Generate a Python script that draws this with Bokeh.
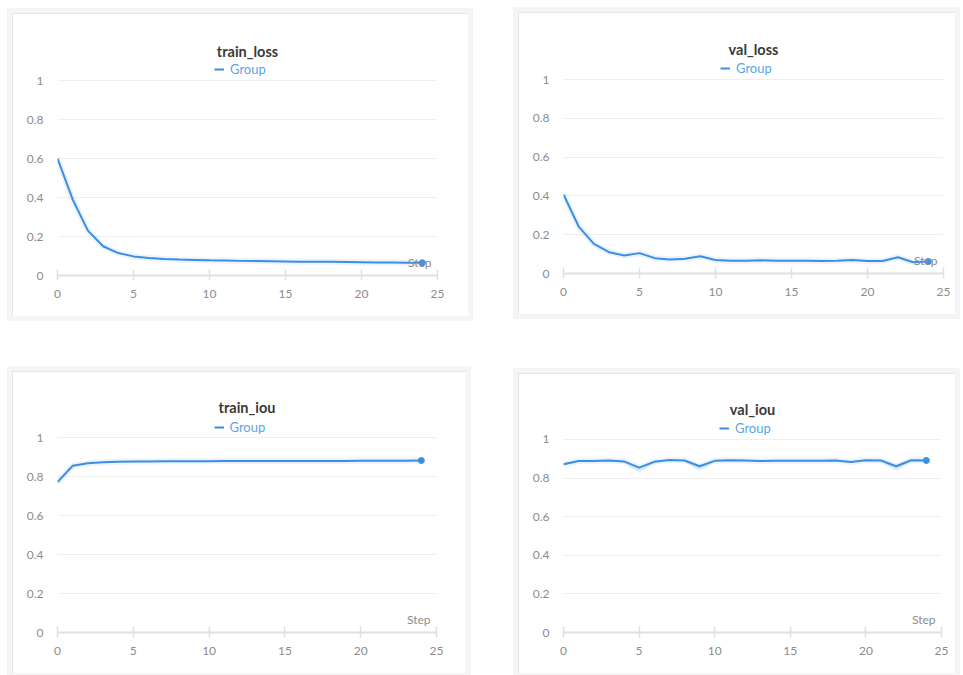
from bokeh.plotting import figure
from bokeh.layouts import column, row
from bokeh.models import (Legend, LegendItem, Title, Label, FixedTicker, Range1d,
                          NumeralTickFormatter)
from bokeh.embed import file_html
from bokeh.resources import INLINE

# ---------------- data ----------------
steps = list(range(25))
train_loss = [0.600, 0.390, 0.230, 0.150, 0.115, 0.098, 0.090, 0.085, 0.082, 0.080,
              0.078, 0.077, 0.075, 0.074, 0.073, 0.072, 0.071, 0.070, 0.070, 0.069,
              0.068, 0.067, 0.067, 0.066, 0.065]
val_loss = [0.407, 0.242, 0.153, 0.110, 0.093, 0.105, 0.079, 0.072, 0.076, 0.089,
            0.070, 0.066, 0.066, 0.068, 0.066, 0.066, 0.066, 0.065, 0.066, 0.070,
            0.064, 0.064, 0.084, 0.058, 0.062]
train_iou = [0.771, 0.855, 0.868, 0.873, 0.876, 0.877, 0.877, 0.878, 0.878, 0.878,
             0.878, 0.879, 0.879, 0.879, 0.880, 0.880, 0.880, 0.880, 0.880, 0.880,
             0.881, 0.881, 0.881, 0.881, 0.882]
val_iou = [0.871, 0.888, 0.888, 0.891, 0.886, 0.854, 0.884, 0.893, 0.891, 0.861,
           0.889, 0.892, 0.891, 0.888, 0.890, 0.889, 0.890, 0.890, 0.891, 0.883,
           0.892, 0.891, 0.861, 0.892, 0.891]
val_iou_low = [0.866, 0.884, 0.884, 0.887, 0.880, 0.828, 0.878, 0.889, 0.886, 0.835,
               0.885, 0.888, 0.887, 0.884, 0.886, 0.885, 0.886, 0.886, 0.887, 0.878,
               0.888, 0.887, 0.835, 0.888, 0.887]
val_iou_high = [0.875, 0.892, 0.892, 0.895, 0.890, 0.860, 0.889, 0.897, 0.895, 0.866,
                0.893, 0.896, 0.895, 0.892, 0.894, 0.893, 0.894, 0.894, 0.895, 0.887,
                0.896, 0.895, 0.866, 0.896, 0.895]

x_ticks = [0, 5, 10, 15, 20, 25]
y_ticks = [0, 0.2, 0.4, 0.6, 0.8, 1]
series_label = "Group"
x_label = "Step"

BLUE = "#3d8ee0"
LEG_TXT = "#5ba3ea"
FONT = "Lato"
LEGEND_H = 16


def make_panel(name, y, w, h, borders, margin, px_per_unit, title_standoff,
               band=None):
    bl, br, bt, bb = borders
    frame_w = w - bl - br
    frame_h = h - bt - bb
    y_top = frame_h / px_per_unit  # extra room above 1 for the legend
    p = figure(width=w, height=h, x_range=Range1d(0, 25), y_range=Range1d(0, y_top),
               output_backend="svg", toolbar_location=None,
               min_border_left=bl, min_border_right=br,
               min_border_top=bt, min_border_bottom=bb,
               margin=margin)
    p.background_fill_color = "white"
    p.border_fill_color = "white"
    p.outline_line_color = None
    p.styles = {"outline": "1px solid #dcdcdc", "outline-offset": "-1px",
                "box-shadow": "0 0 0 5px #f5f5f5"}

    # grid
    p.xgrid.grid_line_color = None
    p.ygrid.grid_line_color = "#efefef"
    p.ygrid.grid_line_width = 1

    # x axis
    xa = p.xaxis[0]
    xa.ticker = FixedTicker(ticks=x_ticks)
    xa.axis_line_color = "#e0e0e0"
    xa.axis_line_width = 2
    xa.major_tick_line_color = "#e0e0e0"
    xa.major_tick_line_width = 1.5
    xa.major_tick_in = 6
    xa.major_tick_out = 5
    xa.minor_tick_line_color = None
    xa.major_label_text_color = "#8c8c8c"
    xa.major_label_text_font = FONT
    xa.major_label_text_font_size = "12px"
    xa.major_label_standoff = 9

    # y axis
    ya = p.yaxis[0]
    ya.ticker = FixedTicker(ticks=y_ticks)
    ya.formatter = NumeralTickFormatter(format="0.[0]")
    ya.axis_line_color = None
    ya.major_tick_line_color = None
    ya.minor_tick_line_color = None
    ya.major_tick_out = 0
    ya.major_tick_in = 0
    ya.major_label_text_color = "#8c8c8c"
    ya.major_label_text_font = FONT
    ya.major_label_text_font_size = "12px"
    ya.major_label_standoff = 14

    if band is not None:
        p.varea(x=steps, y1=band[0], y2=band[1], fill_color=BLUE, fill_alpha=0.12)
    p.line(steps, y, line_color=BLUE, line_width=6, line_alpha=0.10)
    r = p.line(steps, y, line_color=BLUE, line_width=2)
    p.scatter([steps[-1]], [y[-1]], size=6, color=BLUE)

    p.add_layout(Label(x=25, y=0, text=x_label, x_offset=-6, y_offset=6,
                       text_align="right", text_baseline="bottom",
                       text_color="#8c8c8c", text_font=FONT,
                       text_font_size="12px"))

    legend = Legend(items=[LegendItem(label=series_label, renderers=[r])],
                    orientation="horizontal",
                    location=(frame_w / 2 - 33, frame_h - LEGEND_H),
                    border_line_color=None, background_fill_alpha=0,
                    label_text_color=LEG_TXT, label_text_font=FONT,
                    label_text_font_size="13px", glyph_width=10, glyph_height=14,
                    label_standoff=6, padding=1, margin=0, spacing=0)
    p.add_layout(legend)
    p.add_layout(Title(text=name, align="center",
                       text_font=FONT, text_font_size="14.5px",
                       text_font_style="bold", text_color="#3a3a3a",
                       standoff=title_standoff), "above")
    return p


p1 = make_panel("train_loss", train_loss, 456, 303, (45, 31, 48, 41), (13, 0, 0, 12), 195, 4)
p2 = make_panel("val_loss", val_loss, 437, 302, (45, 12, 48, 41), (12, 0, 0, 50), 194, 5)
p3 = make_panel("train_iou", train_iou, 454, 302, (45, 30, 48, 41), (55, 0, 0, 12), 195, 8)
p4 = make_panel("val_iou", val_iou, 437, 300, (45, 14, 48, 40), (57, 0, 0, 52), 194, 8,
                band=(val_iou_low, val_iou_high))

layout = column(row(p1, p2), row(p3, p4))

open("out.html", "w").write(file_html(layout, INLINE))
